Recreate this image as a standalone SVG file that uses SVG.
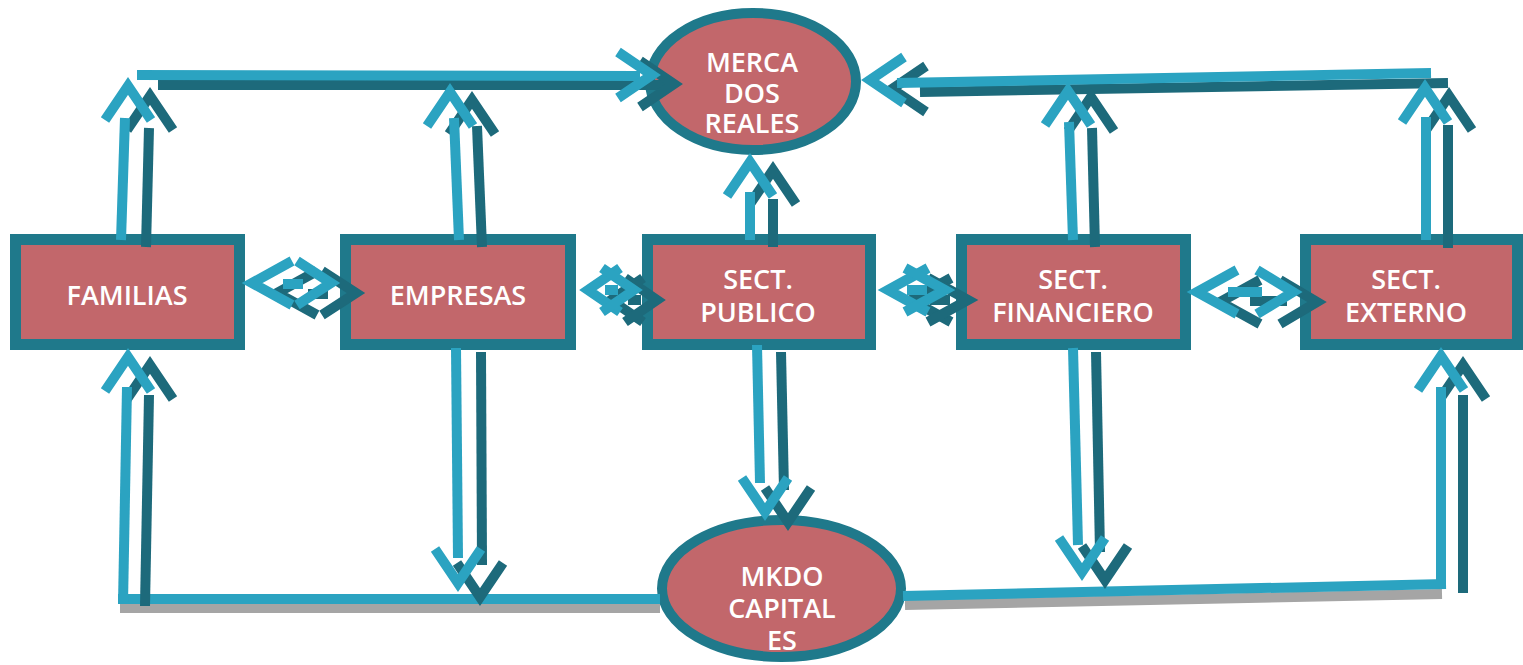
<svg xmlns="http://www.w3.org/2000/svg" width="1523" height="665" viewBox="0 0 1523 665">
<style>
.box{fill:#C2676B;stroke:#1F798B;stroke-width:11}
.ell{fill:#C2676B;stroke:#1F798B;stroke-width:10}
.t{fill:#FFFFFF;font-family:"Open Sans","Liberation Sans",sans-serif;font-size:27px;font-weight:600;text-anchor:middle}
.lt{fill:none;stroke:#2BA3C1;stroke-width:10;stroke-linejoin:miter;stroke-miterlimit:6}
.dk{fill:none;stroke:#1D6A7B;stroke-width:10;stroke-linejoin:miter;stroke-miterlimit:6}
.gr{fill:none;stroke:#A5A5A5;stroke-width:10}
</style>
<rect width="1523" height="665" fill="#FFFFFF"/>
<g id="familias"><rect class="box" x="15.5" y="239.5" width="224" height="105"/><text class="t" x="127" y="305">FAMILIAS</text></g>
<g id="empresas"><rect class="box" x="345.5" y="239.5" width="225" height="105"/><text class="t" x="458" y="305">EMPRESAS</text></g>
<g id="publico"><rect class="box" x="647.5" y="239.5" width="223" height="105"/><text class="t" x="758" y="289">SECT.</text><text class="t" x="758" y="322">PUBLICO</text></g>
<g id="financiero"><rect class="box" x="961.5" y="239.5" width="224" height="105"/><text class="t" x="1073" y="289">SECT.</text><text class="t" x="1073" y="322">FINANCIERO</text></g>
<g id="externo"><rect class="box" x="1305.5" y="239.5" width="212" height="105"/><text class="t" x="1406" y="289">SECT.</text><text class="t" x="1406" y="322">EXTERNO</text></g>
<g id="mercados"><ellipse class="ell" cx="753" cy="81.5" rx="103" ry="68.5"/><text class="t" x="752" y="72">MERCA</text><text class="t" x="752" y="103">DOS</text><text class="t" x="752" y="133">REALES</text></g>
<g id="capitales"><ellipse class="ell" cx="781.5" cy="588.5" rx="119.5" ry="68.5"/><text class="t" x="782" y="586">MKDO</text><text class="t" x="782" y="618">CAPITAL</text><text class="t" x="782" y="650">ES</text></g>
<g id="connectors">
<line class="gr" x1="120" y1="608" x2="660" y2="608"/>
<line class="gr" x1="905" y1="605" x2="1442" y2="594"/>
<line class="lt" x1="118" y1="599" x2="660" y2="599"/>
<line class="lt" x1="903" y1="596" x2="1446" y2="584"/>
<line class="dk" x1="158" y1="85" x2="672" y2="85"/>
<polyline class="dk" points="640,61 674,84 640,107"/>
<line class="lt" x1="137" y1="75" x2="640" y2="76"/>
<polyline class="lt" points="618,52 652,75 618,98"/>
<line class="dk" x1="1448" y1="83" x2="920" y2="92"/>
<polyline class="dk" points="926,66 892,89 926,112"/>
<line class="lt" x1="1431" y1="73" x2="897" y2="83"/>
<polyline class="lt" points="904,57 870,80 904,103"/>
<line class="dk" x1="146" y1="247" x2="149" y2="128"/><polyline class="dk" points="127,130 150,96 173,130"/>
<line class="lt" x1="121" y1="240" x2="125" y2="118"/><polyline class="lt" points="105,120 128,86 151,120"/>
<line class="dk" x1="482" y1="247" x2="477" y2="126"/><polyline class="dk" points="449,134 472,100 495,134"/>
<line class="lt" x1="459" y1="240" x2="454" y2="118"/><polyline class="lt" points="427,126 450,92 473,126"/>
<line class="dk" x1="773" y1="247" x2="773" y2="199"/><polyline class="dk" points="750,204 773,170 796,204"/>
<line class="lt" x1="750" y1="240" x2="750" y2="192"/><polyline class="lt" points="727,196 750,162 773,196"/>
<line class="dk" x1="1095" y1="247" x2="1092" y2="128"/><polyline class="dk" points="1068,131 1091,97 1114,131"/>
<line class="lt" x1="1073" y1="240" x2="1069" y2="122"/><polyline class="lt" points="1045,125 1068,91 1091,125"/>
<line class="dk" x1="1448" y1="248" x2="1448" y2="125"/><polyline class="dk" points="1426,130 1449,96 1472,130"/>
<line class="lt" x1="1426" y1="240" x2="1426" y2="117"/><polyline class="lt" points="1402,122 1425,88 1448,122"/>
<line class="dk" x1="145" y1="606" x2="149" y2="395"/><polyline class="dk" points="127,399 150,365 173,399"/>
<line class="lt" x1="123" y1="604" x2="127" y2="387"/><polyline class="lt" points="105,391 128,357 151,391"/>
<line class="dk" x1="1463" y1="593" x2="1463" y2="395"/><polyline class="dk" points="1440,399 1463,365 1486,399"/>
<line class="lt" x1="1441" y1="589" x2="1441" y2="387"/><polyline class="lt" points="1418,390 1441,356 1464,390"/>
<line class="dk" x1="481" y1="352" x2="482" y2="565"/><polyline class="dk" points="457,563 480,597 503,563"/>
<line class="lt" x1="456" y1="348" x2="458" y2="558"/><polyline class="lt" points="435,549 458,583 481,549"/>
<line class="dk" x1="781" y1="352" x2="784" y2="490"/><polyline class="dk" points="765,488 788,522 811,488"/>
<line class="lt" x1="757" y1="345" x2="760" y2="483"/><polyline class="lt" points="742,478 765,512 788,478"/>
<line class="dk" x1="1096" y1="352" x2="1100" y2="552"/><polyline class="dk" points="1082,546 1105,580 1128,546"/>
<line class="lt" x1="1073" y1="348" x2="1078" y2="545"/><polyline class="lt" points="1059,538 1082,572 1105,538"/>
<polyline class="dk" points="317,271 277,293 317,315"/><polyline class="dk" points="322,271 356,293 322,315"/><line class="dk" x1="308" y1="294" x2="328" y2="294"/>
<polyline class="lt" points="292,261 252,283 292,305"/><polyline class="lt" points="297,261 331,283 297,305"/><line class="lt" x1="283" y1="284" x2="303" y2="284"/>
<polyline class="dk" points="643,278 611,300 643,322"/><polyline class="dk" points="625,278 657,300 625,322"/><line class="dk" x1="628" y1="300" x2="641" y2="300"/>
<polyline class="lt" points="620,268 588,290 620,312"/><polyline class="lt" points="602,268 634,290 602,312"/><line class="lt" x1="605" y1="290" x2="618" y2="290"/>
<polyline class="dk" points="951,278 911,300 951,322"/><polyline class="dk" points="928,278 968,300 928,322"/><line class="dk" x1="930" y1="300" x2="950" y2="300"/>
<polyline class="lt" points="928,268 888,290 928,312"/><polyline class="lt" points="905,268 945,290 905,312"/><line class="lt" x1="907" y1="290" x2="927" y2="290"/>
<polyline class="dk" points="1260,280 1220,302 1260,324"/><polyline class="dk" points="1280,280 1317,302 1280,324"/><line class="dk" x1="1250" y1="301" x2="1287" y2="301"/>
<polyline class="lt" points="1237,270 1197,292 1237,314"/><polyline class="lt" points="1257,270 1293,292 1257,314"/><line class="lt" x1="1228" y1="292" x2="1262" y2="292"/>
</g>
</svg>
